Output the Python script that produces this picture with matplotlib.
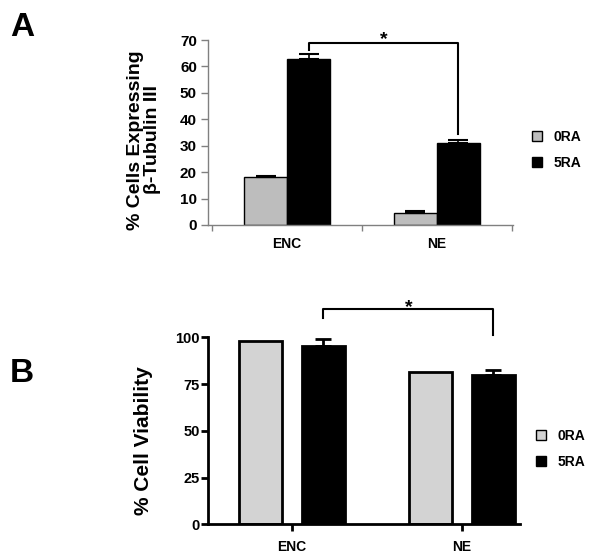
#!/usr/bin/env python3
import matplotlib
matplotlib.use('Agg')
import matplotlib.pyplot as plt
from matplotlib.patches import Patch
import numpy as np

plt.rcParams['font.family'] = ['Liberation Sans', 'DejaVu Sans']
plt.rcParams['font.weight'] = 'bold'

groups = ['ENC', 'NE']
series = ['0RA', '5RA']

# panel A: % cells expressing beta-tubulin III
tub_0ra = [18.0, 4.4]
tub_0ra_err = [0.5, 0.8]
tub_5ra = [63.0, 31.0]
tub_5ra_err = [1.6, 1.1]
tub_yticks = [0, 10, 20, 30, 40, 50, 60, 70]

# panel B: % cell viability
via_0ra = [98.0, 81.3]
via_5ra = [95.5, 80.0]
via_5ra_err = [3.6, 2.5]
via_yticks = [0, 25, 50, 75, 100]

fig = plt.figure(figsize=(6.0, 5.58), dpi=100)
W, H = 600.0, 558.0

# ---------------- panel A ----------------
axa = fig.add_axes([208 / W, 1 - 225 / H, 305 / W, 185 / H])
x = np.arange(len(groups))
bw = 0.287
gray_a = '#bdbdbd'
axa.bar(x - bw / 2, tub_0ra, bw, color=gray_a, edgecolor='black', linewidth=1.0,
        yerr=[np.zeros(2), tub_0ra_err], error_kw=dict(ecolor='black', elinewidth=1.2, capsize=7, capthick=1.5))
axa.bar(x + bw / 2, tub_5ra, bw, color='black', edgecolor='black', linewidth=1.0,
        yerr=[np.zeros(2), tub_5ra_err], error_kw=dict(ecolor='black', elinewidth=1.2, capsize=7, capthick=1.5))
axa.set_xlim(-0.527, 1.507)
axa.set_ylim(0, 70)
axa.set_yticks(tub_yticks)
axa.set_xticks([-0.5, 0.5, 1.5])
axa.set_xticklabels([])
axa.set_xticks(x, minor=True)
axa.set_xticklabels(groups, minor=True, fontsize=10, fontweight='bold')
axa.tick_params(axis='x', which='major', direction='out', length=4, color='#808080', width=1)
axa.tick_params(axis='x', which='minor', length=0, pad=9)
axa.tick_params(axis='y', direction='out', length=5, color='#808080', width=1, labelsize=11, pad=3)
for lab in axa.get_yticklabels():
    lab.set_fontweight('bold')
for s in ['top', 'right']:
    axa.spines[s].set_visible(False)
for s in ['left', 'bottom']:
    axa.spines[s].set_color('#808080')
    axa.spines[s].set_linewidth(1.0)
axa.set_ylabel('% Cells Expressing\nβ-Tubulin III', fontsize=14, fontweight='bold',
               linespacing=1.0)
axa.yaxis.set_label_coords(-0.155, 0.46)

# significance bracket A
xl, xr = x[0] + bw / 2, x[1] + bw / 2
axa.plot([xl, xl, xr, xr], [66.2, 69.0, 69.0, 34.5], color='black', lw=1.5, clip_on=False)
axa.text((xl + xr) / 2, 67.0, '*', ha='center', va='bottom', fontsize=14, fontweight='bold')

axa.legend(handles=[Patch(facecolor=gray_a, edgecolor='black', linewidth=1.0),
                    Patch(facecolor='black', edgecolor='black')],
           labels=series, loc='center left', bbox_to_anchor=(532 / W, 1 - 150 / H),
           bbox_transform=fig.transFigure, frameon=False,
           handlelength=0.75, handleheight=0.75, handletextpad=0.8, labelspacing=0.85,
           borderpad=0, borderaxespad=0, prop={'weight': 'bold', 'size': 10})

fig.text(22 / W, 1 - 27 / H, 'A', fontsize=24, fontweight='bold', ha='center', va='center')

# ---------------- panel B ----------------
axb = fig.add_axes([208 / W, 1 - 524.3 / H, 312 / W, 187 / H])
bw2 = 0.25
off = 0.185
gray_b = '#d3d3d3'
axb.bar(x - off, via_0ra, bw2, color=gray_b, edgecolor='black', linewidth=2.0)
axb.bar(x + off, via_5ra, bw2, color='black', edgecolor='black', linewidth=2.0,
        yerr=[np.zeros(2), via_5ra_err], error_kw=dict(ecolor='black', elinewidth=2, capsize=6, capthick=2))
axb.set_xlim(-0.494, 1.341)
axb.set_ylim(0, 100)
axb.set_yticks(via_yticks)
axb.set_xticks(x)
axb.set_xticklabels(groups, fontsize=10, fontweight='bold')
axb.tick_params(axis='x', direction='out', length=5, width=2, color='black', labelsize=10, pad=6)
axb.tick_params(axis='y', direction='out', length=5, width=2, color='black', labelsize=10.5, pad=1)
for lab in axb.get_yticklabels():
    lab.set_fontweight('bold')
for s in ['top', 'right']:
    axb.spines[s].set_visible(False)
for s in ['left', 'bottom']:
    axb.spines[s].set_linewidth(2.0)
axb.set_ylabel('% Cell Viability', fontsize=15, fontweight='bold')
axb.yaxis.set_label_coords(-0.175, 0.445)

# significance bracket B
xl, xr = x[0] + off, x[1] + off
axb.plot([xl, xl, xr, xr], [110.5, 115.0, 115.0, 101.0], color='black', lw=1.5, clip_on=False)
axb.text((xl + xr) / 2, 111.5, '*', ha='center', va='bottom', fontsize=14, fontweight='bold')

axb.legend(handles=[Patch(facecolor=gray_b, edgecolor='black', linewidth=1.0),
                    Patch(facecolor='black', edgecolor='black')],
           labels=series, loc='center left', bbox_to_anchor=(536 / W, 1 - 449 / H),
           bbox_transform=fig.transFigure, frameon=False,
           handlelength=0.75, handleheight=0.75, handletextpad=0.8, labelspacing=0.85,
           borderpad=0, borderaxespad=0, prop={'weight': 'bold', 'size': 10})

fig.text(22 / W, 1 - 373 / H, 'B', fontsize=24, fontweight='bold', ha='center', va='center')

fig.savefig('out.png', dpi=100)
